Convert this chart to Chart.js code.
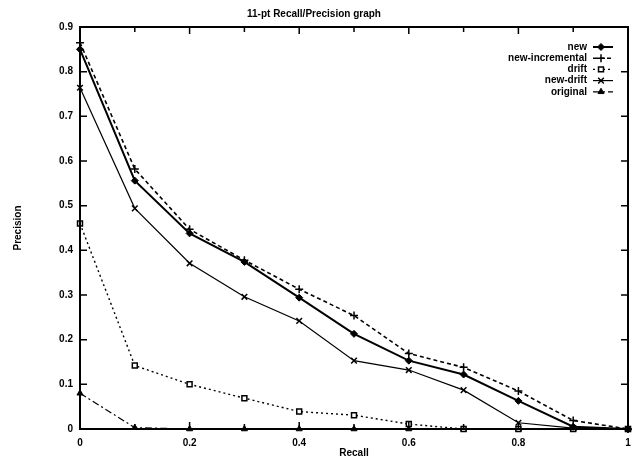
<!DOCTYPE html>
<html lang="en">
<head>
    <meta charset="UTF-8">
    <title>11-pt Recall/Precision graph</title>
    <script src="https://cdn.jsdelivr.net/npm/chart.js"></script>
    <style>
        body { margin: 0; background: #fff; }
        #wrap { width: 635px; height: 459px; }
    </style>
</head>
<body>
    <div id="wrap"><canvas id="prChart" width="635" height="459"></canvas></div>

    <script>
        // recall levels (11-pt)
        const recall = [0, 0.1, 0.2, 0.3, 0.4, 0.5, 0.6, 0.7, 0.8, 0.9, 1.0];

        const seriesNames = ["new", "new-incremental", "drift", "new-drift", "original"];

        const newP         = [0.850, 0.556, 0.438, 0.374, 0.294, 0.213, 0.153, 0.122, 0.063, 0.005, 0];
        const newIncP      = [0.865, 0.582, 0.447, 0.378, 0.313, 0.254, 0.169, 0.138, 0.085, 0.019, 0];
        const driftP       = [0.460, 0.142, 0.100, 0.069, 0.039, 0.031, 0.011, 0, 0, 0, 0];
        const newDriftP    = [0.764, 0.494, 0.371, 0.296, 0.242, 0.153, 0.132, 0.087, 0.014, 0.002, 0];
        const originalP    = [0.080, 0.003, 0, 0, 0, 0, 0, 0, 0, 0, 0];

        const yTicks = [0, 0.1, 0.2, 0.3, 0.4, 0.5, 0.6, 0.7, 0.8, 0.9];
        const xTicks = [0, 0.1, 0.2, 0.3, 0.4, 0.5, 0.6, 0.7, 0.8, 0.9, 1.0];

        const FONT = { family: "'Liberation Sans', Arial, sans-serif", size: 10, weight: "bold" };

        function pts(values) {
            return recall.map((r, i) => ({ x: r, y: values[i] }));
        }

        // gnuplot-like frame with inward ticks on all sides
        const framePlugin = {
            id: "frame",
            afterDatasetsDraw(chart) {
                const { ctx, chartArea: a, scales } = chart;
                ctx.save();
                ctx.strokeStyle = "#000";
                ctx.lineWidth = 2;
                ctx.setLineDash([]);
                ctx.strokeRect(a.left, a.top, a.right - a.left, a.bottom - a.top);
                ctx.lineWidth = 1.5;
                xTicks.forEach((v, i) => {
                    const px = scales.x.getPixelForValue(v);
                    const len = i % 2 === 0 ? 7 : 5;
                    ctx.beginPath();
                    ctx.moveTo(px, a.bottom); ctx.lineTo(px, a.bottom - len);
                    ctx.moveTo(px, a.top); ctx.lineTo(px, a.top + len);
                    ctx.stroke();
                });
                yTicks.forEach(v => {
                    const py = scales.y.getPixelForValue(v);
                    ctx.beginPath();
                    ctx.moveTo(a.left, py); ctx.lineTo(a.left + 7, py);
                    ctx.moveTo(a.right, py); ctx.lineTo(a.right - 7, py);
                    ctx.stroke();
                });
                ctx.restore();
            }
        };

        // legend: right-aligned names followed by a line sample with its marker
        const keyPlugin = {
            id: "key",
            afterDraw(chart) {
                const ctx = chart.ctx;
                ctx.save();
                ctx.font = "bold 10px 'Liberation Sans', Arial, sans-serif";
                ctx.textAlign = "right";
                ctx.textBaseline = "middle";
                chart.data.datasets.forEach((ds, i) => {
                    const y = 47 + i * 11.2;
                    ctx.fillStyle = "#000";
                    ctx.fillText(ds.label, 587, y);
                    ctx.strokeStyle = "#000";
                    ctx.lineWidth = ds.borderWidth;
                    ctx.setLineDash(ds.borderDash || []);
                    ctx.beginPath();
                    ctx.moveTo(593, y); ctx.lineTo(613, y);
                    ctx.stroke();
                    ctx.setLineDash([]);
                    ctx.fillStyle = ds.pointBackgroundColor;
                    ctx.lineWidth = ds.pointBorderWidth;
                    Chart.helpers.drawPoint(ctx, {
                        pointStyle: ds.pointStyle, radius: ds.pointRadius, rotation: 0,
                        borderWidth: ds.pointBorderWidth
                    }, 601, y);
                });
                ctx.restore();
            }
        };

        const ctx = document.getElementById("prChart").getContext("2d");

        new Chart(ctx, {
            type: "line",
            data: {
                datasets: [
                    { label: seriesNames[0], data: pts(newP), borderWidth: 2, borderDash: [],
                      pointStyle: "rectRot", pointRadius: 3.5, pointBackgroundColor: "#000", pointBorderWidth: 1 },
                    { label: seriesNames[1], data: pts(newIncP), borderWidth: 1.6, borderDash: [4, 3],
                      pointStyle: "cross", pointRadius: 4, pointBackgroundColor: "#000", pointBorderWidth: 1.5 },
                    { label: seriesNames[2], data: pts(driftP), borderWidth: 1.4, borderDash: [2, 3],
                      pointStyle: "rect", pointRadius: 3.5, pointBackgroundColor: "#fff", pointBorderWidth: 1.5 },
                    { label: seriesNames[3], data: pts(newDriftP), borderWidth: 1.2, borderDash: [],
                      pointStyle: "crossRot", pointRadius: 4, pointBackgroundColor: "#000", pointBorderWidth: 1.5 },
                    { label: seriesNames[4], data: pts(originalP), borderWidth: 1.2, borderDash: [7, 3, 2, 3],
                      pointStyle: "triangle", pointRadius: 3.5, pointBackgroundColor: "#000", pointBorderWidth: 1 }
                ].map(ds => Object.assign(ds, {
                    borderColor: "#000", pointBorderColor: "#000", fill: false, tension: 0, clip: false
                }))
            },
            options: {
                responsive: false,
                animation: false,
                layout: { padding: { left: 0, right: 7, top: 0, bottom: 0 } },
                plugins: {
                    legend: { display: false },
                    tooltip: { enabled: false },
                    title: {
                        display: true,
                        text: "11-pt Recall/Precision graph",
                        color: "#000",
                        font: FONT,
                        padding: { top: 8, bottom: 7 }
                    }
                },
                scales: {
                    x: {
                        type: "linear", min: 0, max: 1,
                        afterBuildTicks: s => { s.ticks = xTicks.map(v => ({ value: v })); },
                        afterFit: s => { s.height = 30; s.paddingLeft = 0; s.paddingRight = 0; },
                        grid: { display: false, drawTicks: false },
                        border: { display: false },
                        ticks: {
                            color: "#000", font: FONT, padding: 8, maxRotation: 0, autoSkip: false,
                            callback: v => {
                                const k = Math.round(v * 10);
                                if (k % 2) return "";
                                return k === 0 ? "0" : k === 10 ? "1" : (k / 10).toFixed(1);
                            }
                        },
                        title: { display: true, text: "Recall", color: "#000", font: FONT, padding: { top: 0, bottom: 0 } }
                    },
                    y: {
                        type: "linear", min: 0, max: 0.9,
                        afterBuildTicks: s => { s.ticks = yTicks.map(v => ({ value: v })); },
                        afterFit: s => { s.width = 80; s.paddingTop = 0; s.paddingBottom = 0; },
                        grid: { display: false, drawTicks: false },
                        border: { display: false },
                        ticks: {
                            color: "#000", font: FONT, padding: 7,
                            callback: v => (v === 0 ? "0" : v.toFixed(1))
                        },
                        title: { display: true, text: "Precision", color: "#000", font: FONT, padding: { top: 12, bottom: 0 } }
                    }
                }
            },
            plugins: [framePlugin, keyPlugin]
        });
    </script>
</body>
</html>
